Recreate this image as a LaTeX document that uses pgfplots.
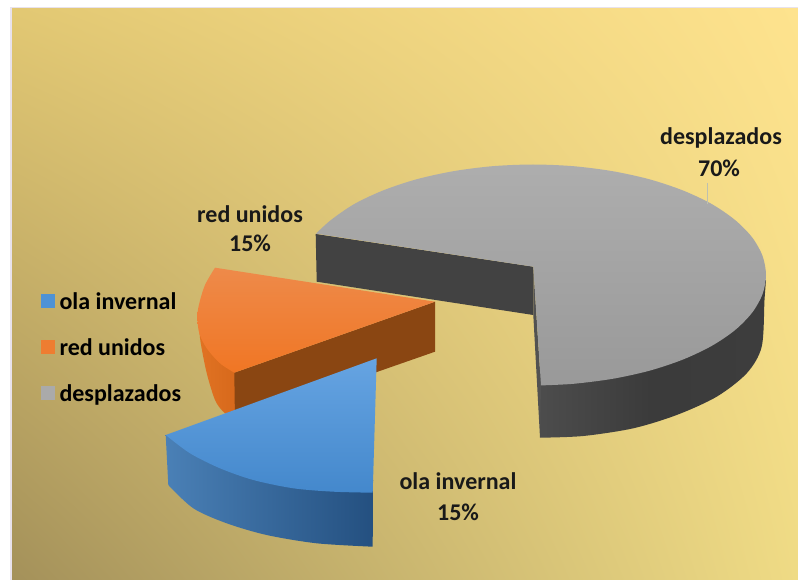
\documentclass[border=0pt]{standalone}
\usepackage{fontspec}
\setmainfont{Carlito}
\usepackage{pgfplots}
\pgfplotsset{compat=1.18}
\usetikzlibrary{shadings}
\definecolor{bgLL}{HTML}{A4915A}
\definecolor{bgLR}{HTML}{EFDB85}
\definecolor{bgUL}{HTML}{E2C873}
\definecolor{bgUR}{HTML}{FEE38E}
\definecolor{legblue}{RGB}{78,146,214}
\definecolor{legorange}{RGB}{238,125,49}
\definecolor{leggrey}{RGB}{170,170,170}
\newcommand{\lbl}{\bfseries\fontsize{24}{24}\selectfont}
\begin{document}
\begin{tikzpicture}
\begin{axis}[
  width=798pt,height=580pt,scale only axis,
  xmin=0,xmax=798,ymin=0,ymax=580,y dir=reverse,
  axis lines=none,clip=true,
  legend style={at={(axis cs:41,293)},anchor=north west,draw=none,fill=none,
    font=\lbl,row sep=29pt,inner sep=0pt,outer sep=0pt,
    cells={anchor=west},nodes={inner sep=0pt,text depth=0pt}},
  legend cell align=left,
]
% page and frame
\addplot[draw=none,fill=white,forget plot] coordinates {(0,0)(798,0)(798,580)(0,580)} -- cycle;
\addplot[draw=none,fill={rgb,255:red,232;green,226;blue,236},forget plot] coordinates {(10,7)(798,7)(798,580)(10,580)} -- cycle;
% background
\addplot[draw=none,shading=bilinear interpolation,lower left=bgLL,lower right=bgLR,upper left=bgUL,upper right=bgUR,forget plot]
  coordinates {(12,9)(798,9)(798,580)(12,580)} -- cycle;
% grey outer side
\addplot[draw=none,left color=black!70,right color=black!76,middle color=black!77,forget plot,smooth]
  coordinates {(540,437.7)(583.3,436)(633.3,428.3)(676.7,415)(716.7,396.7)(746.7,373.3)(761.7,346.7)(764.5,300)(766,280)} -- (axis cs:541,300) -- cycle;
% grey inner faces
\addplot[draw=none,fill=black!74,forget plot] coordinates {(315.7,234)(533.3,266.7)(533.3,315)(316.7,281.7)} -- cycle;
\addplot[draw=none,fill=black!68,forget plot] coordinates {(533.3,266.7)(541,386)(540,437.7)(533.3,315)} -- cycle;
% grey top
\addplot[draw=none,top color=black!32,bottom color=black!40,forget plot,smooth]
  coordinates {(316,233.6)(331.2,219.8)(354.5,203.9)(383.2,190.4)(416.5,179.3)(453.3,171.2)(492.5,166.2)(533,164.5)(573.5,166.2)(612.7,171.2)(649.5,179.3)(682.8,190.4)(711.5,203.9)(734.8,219.8)(752,237.2)(762.5,255.8)(766,275)(762.5,294.2)(752,312.8)(734.8,330.3)(711.5,346)(682.8,359.6)(649.5,370.7)(612.7,378.8)(573.5,383.8)(541,385.4)}
  -- (axis cs:533.3,266.7) -- cycle;
% leader
\addplot[color={rgb,255:red,190;green,192;blue,175},line width=1.6pt,forget plot] coordinates {(707.3,183)(707.3,204)};
% orange side
\addplot[draw=none,left color={rgb,255:red,225;green,115;blue,35},right color={rgb,255:red,215;green,105;blue,28},forget plot,smooth]
  coordinates {(197.3,316.7)(199,327)(200.7,343)(206.7,373)(215,400)(223.3,411.7)(235,421)} -- (axis cs:235,372) -- cycle;
\addplot[draw=none,fill={rgb,255:red,138;green,70;blue,18},forget plot] coordinates {(234.3,372.7)(435,301.7)(435,351.7)(235,421.5)} -- cycle;
% orange top
\addplot[draw=none,top color={rgb,255:red,238;green,138;blue,74},bottom color={rgb,255:red,240;green,118;blue,36},forget plot,smooth]
  coordinates {(215,267.7)(205,285)(199.3,303.3)(197.3,316.7)(199.3,333.3)(206.7,348.3)(220,363.3)(234.3,372.7)} -- (axis cs:435,301.7) -- cycle;
% blue side
\addplot[draw=none,left color={rgb,255:red,74;green,128;blue,182},right color={rgb,255:red,36;green,80;blue,128},forget plot,smooth]
  coordinates {(168.3,485)(193.3,508.3)(226.7,523.3)(266.7,535)(316.7,543.3)(372.7,546.7)} -- (axis cs:373,480) -- (axis cs:165.7,435) -- cycle;
% blue top
\addplot[draw=none,top color={rgb,255:red,102;green,164;blue,226},bottom color={rgb,255:red,68;green,136;blue,204},forget plot,smooth]
  coordinates {(165.7,435)(190,453.3)(220,468.3)(253.3,480)(293.3,488.3)(333.3,491.7)(372.7,492.7)} -- (axis cs:376.7,358.3) -- cycle;
% legend
\addlegendimage{legend image code/.code={\path[draw=none,fill=none] (0pt,-7pt) rectangle (18.5pt,7pt);\fill[legblue,draw=none] (0pt,-7pt) rectangle (14pt,7pt);}}
\addlegendentry{ola invernal}
\addlegendimage{legend image code/.code={\path[draw=none,fill=none] (0pt,-7pt) rectangle (18.5pt,7pt);\fill[legorange,draw=none] (0pt,-7pt) rectangle (14pt,7pt);}}
\addlegendentry{red unidos}
\addlegendimage{legend image code/.code={\path[draw=none,fill=none] (0pt,-7pt) rectangle (18.5pt,7pt);\fill[leggrey,draw=none] (0pt,-7pt) rectangle (14pt,7pt);}}
\addlegendentry{desplazados}
% data labels
\node[font=\lbl,text=black!90] at (axis cs:721,138) {desplazados};
\node[font=\lbl,text=black!90] at (axis cs:719,168) {70\%};
\node[font=\lbl,text=black!90] at (axis cs:250,214) {red unidos};
\node[font=\lbl,text=black!90] at (axis cs:250,243) {15\%};
\node[font=\lbl,text=black!90] at (axis cs:458,481) {ola invernal};
\node[font=\lbl,text=black!90] at (axis cs:458,512) {15\%};
\end{axis}
\end{tikzpicture}
\end{document}
